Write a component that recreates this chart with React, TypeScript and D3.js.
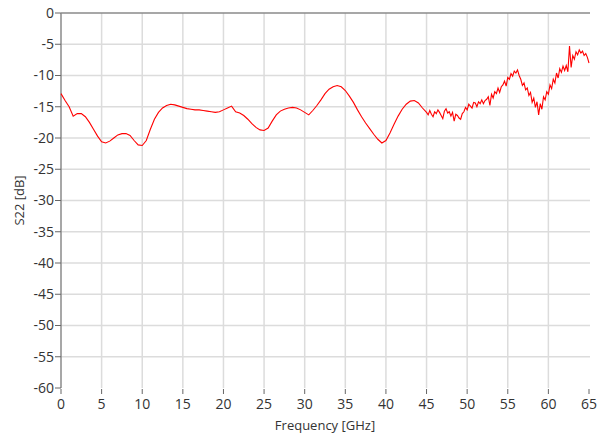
import React from "react";
import * as d3 from "d3";

// S22 readings, 0 to 45 GHz every 0.5 GHz
const smoothValues = [
  -12.9, -14.0, -15.0, -16.5, -16.1, -16.1, -16.6, -17.5, -18.6, -19.7,
  -20.6, -20.8, -20.5, -20.0, -19.5, -19.3, -19.3, -19.6, -20.4, -21.1,
  -21.2, -20.4, -18.6, -17.0, -15.9, -15.2, -14.8, -14.6, -14.7, -14.9,
  -15.1, -15.3, -15.4, -15.5, -15.5, -15.6, -15.7, -15.8, -15.9, -15.8,
  -15.5, -15.2, -14.9, -15.8, -16.0, -16.4, -17.0, -17.7, -18.3, -18.7,
  -18.8, -18.4, -17.3, -16.3, -15.7, -15.4, -15.2, -15.1, -15.2, -15.5,
  -15.9, -16.3, -15.6, -14.8, -13.9, -12.9, -12.2, -11.8, -11.6, -11.8,
  -12.4, -13.3, -14.3, -15.5, -16.6, -17.6, -18.5, -19.4, -20.2, -20.8,
  -20.4, -19.2, -17.8, -16.5, -15.4, -14.6, -14.1, -14.0, -14.4, -15.2,
  -15.9,
];

// noisy part, 45.2 to 65 GHz every 0.2 GHz
const noisyValues = [
  -16.3, -15.6, -16.2, -16.6, -15.8, -16.1, -15.5, -15.9, -16.4, -16.9,
  -15.7, -15.3, -16.0, -15.8, -16.5, -15.9, -17.3, -16.2, -16.4, -16.8,
  -17.0, -16.1, -15.8, -15.1, -15.5, -14.6, -14.9, -15.2, -14.3, -14.4,
  -15.0, -14.2, -14.5, -13.9, -14.5, -14.0, -13.8, -13.4, -14.8, -13.0,
  -13.6, -12.6, -12.9, -12.0, -12.7, -11.8, -11.5, -10.9, -11.7, -10.3,
  -10.6, -9.7, -10.1, -9.3, -9.6, -9.1, -10.0, -10.6, -11.6, -11.2,
  -12.3, -12.0, -13.2, -12.7, -14.3, -13.6, -15.1, -14.2, -16.3, -14.5,
  -15.4, -13.4, -13.9, -12.6, -13.0, -11.5, -12.1, -10.6, -11.2, -9.6,
  -10.4, -8.9, -9.5, -8.5, -9.2, -8.4, -9.4, -5.3, -8.7, -6.8,
  -7.4, -6.2, -6.7, -5.9, -6.4, -6.1, -6.8, -6.5, -7.1, -8.0,
];

const xTicks = [0, 5, 10, 15, 20, 25, 30, 35, 40, 45, 50, 55, 60, 65];
const yTicks = [0, -5, -10, -15, -20, -25, -30, -35, -40, -45, -50, -55, -60];

const points: [number, number][] = [
  ...smoothValues.map((v, i) => [i * 0.5, v] as [number, number]),
  ...noisyValues.map((v, i) => [45.2 + i * 0.2, v] as [number, number]),
];

const W = 609;
const H = 436;
const left = 61;
const right = 589;
const top = 13;
const bottom = 388;
const font = "'Open Sans', sans-serif";

export default function App() {
  const x = d3.scaleLinear().domain([0, 65]).range([left, right]);
  const y = d3.scaleLinear().domain([-60, 0]).range([bottom, top]);
  const line = d3
    .line<[number, number]>()
    .x((d) => x(d[0]))
    .y((d) => y(d[1]));

  return (
    <svg
      width={W}
      height={H}
      style={{ position: "absolute", left: 0, top: 0, background: "#fff" }}
    >
      {xTicks
        .filter((t) => t > 0 && t < 65)
        .map((t) => (
          <line key={"gx" + t} x1={x(t)} x2={x(t)} y1={top} y2={bottom} stroke="#dcdcdc" strokeWidth={1.5} />
        ))}
      {yTicks
        .filter((t) => t < 0 && t > -60)
        .map((t) => (
          <line key={"gy" + t} x1={left} x2={right + 1} y1={y(t)} y2={y(t)} stroke="#dcdcdc" strokeWidth={1.5} />
        ))}
      <line x1={left} x2={right + 1} y1={top} y2={top} stroke="#8a8a8a" strokeWidth={1.5} />
      <line x1={left} x2={left} y1={top} y2={bottom} stroke="#8a8a8a" strokeWidth={1.5} />

      {yTicks.map((t) => (
        <g key={"ty" + t}>
          <line x1={left - 6} x2={left} y1={y(t)} y2={y(t)} stroke="#666" />
          <text x={left - 7} y={y(t)} dy="0.35em" textAnchor="end" fontFamily={font} fontSize={14} fill="#333">
            {t}
          </text>
        </g>
      ))}
      {xTicks.map((t) => (
        <g key={"tx" + t}>
          <line x1={x(t)} x2={x(t)} y1={bottom + 1} y2={bottom + 6} stroke="#666" />
          <text x={x(t)} y={bottom + 21} textAnchor="middle" fontFamily={font} fontSize={14} fill="#333">
            {t}
          </text>
        </g>
      ))}

      <path d={line(points) || ""} fill="none" stroke="#ff0000" strokeWidth={1.1} />

      <text x={(left + right) / 2} y={430} textAnchor="middle" fontFamily={font} fontSize={13} fill="#333">
        Frequency [GHz]
      </text>
      <text
        transform={`translate(24,${(top + bottom) / 2}) rotate(-90)`}
        textAnchor="middle"
        fontFamily={font}
        fontSize={13}
        fill="#333"
      >
        S22 [dB]
      </text>
    </svg>
  );
}
